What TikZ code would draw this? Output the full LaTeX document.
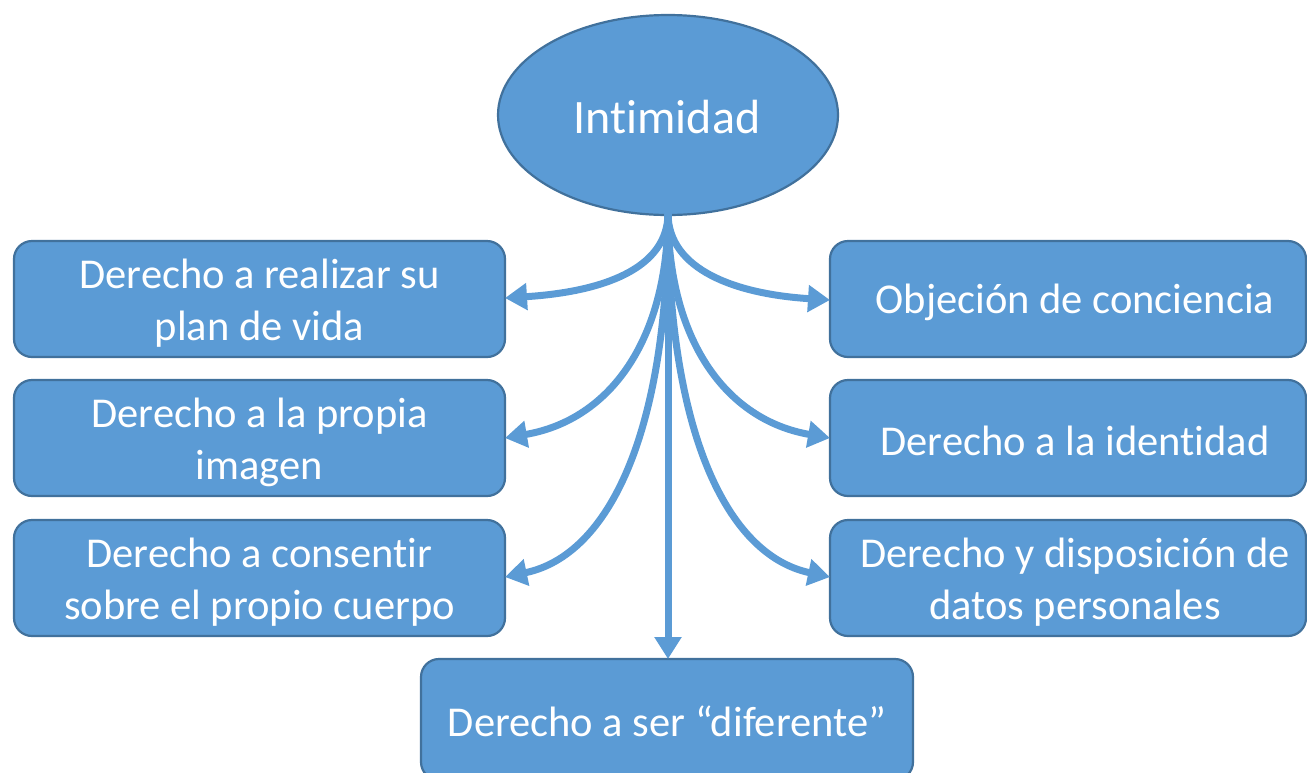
\documentclass[tikz,border=0pt]{standalone}
\usepackage{fontspec}
\setmainfont{Carlito}[Ligatures=NoCommon]
\usetikzlibrary{arrows.meta,shapes.geometric}
\definecolor{boxfill}{HTML}{5B9BD5}
\definecolor{boxline}{HTML}{41719C}
\begin{document}
\begin{tikzpicture}[x=1pt,y=-1pt,
  box/.style={draw=boxline,fill=boxfill,line width=2.2pt,rounded corners=18pt},
  lbl/.style={text=white,font=\fontsize{42.5}{52}\selectfont,align=center},
  conn/.style={draw=boxfill,line width=7pt,-{Triangle[length=22pt,width=26pt]}}]
\useasboundingbox (0,0) rectangle (1307,772);
\node[ellipse,draw=boxline,fill=boxfill,line width=2.2pt,minimum width=340pt,minimum height=200pt,
  inner sep=0pt] (c) at (668,115) {};
\node[text=white,font=\fontsize{48}{52}\selectfont] (ct) at (667,117) {Intimidad};
\path[box] (14,241) rectangle (505,357);
\node[lbl] (l1) at (259.5,303) {Derecho a realizar su\\plan de vida};
\path[box] (14,380) rectangle (505,496);
\node[lbl] (l2) at (259.5,442) {Derecho a la propia\\imagen};
\path[box] (14,520) rectangle (505,636);
\node[lbl] (l3) at (259.5,582) {Derecho a consentir\\sobre el propio cuerpo};
\path[box] (830,241) rectangle (1306,357);
\node[lbl] (r1) at (1075,302) {Objeción de conciencia};
\path[box] (830,380) rectangle (1306,496);
\node[lbl] (r2) at (1075,441) {Derecho a la identidad};
\path[box] (830,520) rectangle (1306,636);
\node[lbl] (r3) at (1075,582) {Derecho y disposición de\\datos personales};
\path[box] (421,659) rectangle (913,780);
\node[lbl] (b) at (667,721) {Derecho a ser “diferente”};
\coordinate (s) at (668,213);
\coordinate (el1) at (505,298);
\coordinate (el2) at (505,438);
\coordinate (el3) at (505,577);
\coordinate (er1) at (830,300);
\coordinate (er2) at (830,438);
\coordinate (er3) at (830,577);
\coordinate (eb) at (668,659);
\draw[conn] (s) .. controls (668,270) and (600,292) .. (el1);
\draw[conn] (s) .. controls (668,340) and (610,420) .. (el2);
\draw[conn] (s) .. controls (668,430) and (610,555) .. (el3);
\draw[conn] (s) .. controls (668,270) and (736,294) .. (er1);
\draw[conn] (s) .. controls (668,340) and (726,420) .. (er2);
\draw[conn] (s) .. controls (668,430) and (726,555) .. (er3);
\draw[conn] (s) -- (eb);
\end{tikzpicture}
\end{document}
